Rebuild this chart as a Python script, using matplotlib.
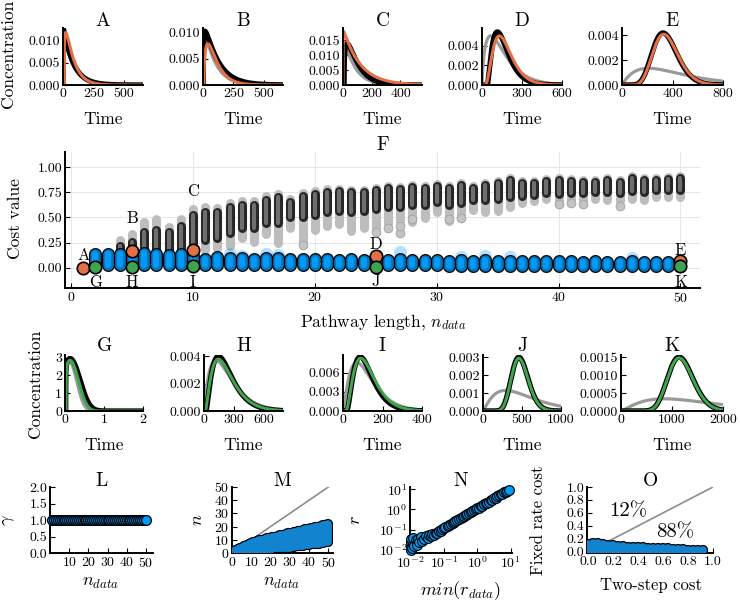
"""
Pathway length figure: concentration profiles (A-E, G-K), cost per
pathway length (F) and fitted parameters against the data (L-O).
"""

import numpy as np
import matplotlib
matplotlib.use("Agg")
import matplotlib.pyplot as plt

W, H = 740, 603
BLUE = "#009AFA"
DARK_BLUE = "#0b74b8"
ORANGE = "#E36F47"
GREEN = "#3EA44E"
GRAY = "#9a9a9a"

# --- top row (A-E): data (black), fixed rate (gray), two-step (orange)
# curve parameters: (height, start, width to peak, shape, power)
top_names = ["A", "B", "C", "D", "E"]
top_tmax = [660, 660, 550, 600, 800]
top_xticks = [[0, 250, 500], [0, 250, 500], [0, 200, 400], [0, 300, 600], [0, 400, 800]]
top_ymax = [0.0127, 0.0108, 0.0190, 0.0058, 0.0046]
top_yticks = [["0.000", "0.005", "0.010"], ["0.000", "0.005", "0.010"],
              ["0.000", "0.005", "0.010", "0.015"], ["0.000", "0.002", "0.004"],
              ["0.000", "0.002", "0.004"]]
top_data = [(0.0125, 0, 2, 0.025, 1), (0.0102, 3, 12, 0.12, 1), (0.0138, 8, 20, 0.3, 1),
            (0.0054, 40, 75, 1.5, 1), (0.0042, 0, 325, 11, 1)]
top_gray = [(0.0118, 0, 2, 0.0235, 1), (0.0094, 2, 10, 0.12, 1), (0.0125, 3, 10, 0.15, 1),
            (0.0050, 0, 65, 0.7, 1), (0.00135, 0, 210, 1.0, 1)]
top_fit = [(0.0117, 10, 12, 0.2, 1), (0.0078, 8, 32, 0.5, 1), (0.0180, 0, 2, 0.0174, 1),
           (0.0050, 25, 105, 2.2, 1), (0.0041, 0, 330, 11, 1)]

# --- middle row (G-K): data (black), fixed rate (gray), gamma fit (green)
mid_names = ["G", "H", "I", "J", "K"]
mid_tmax = [2, 800, 400, 1000, 2000]
mid_xticks = [[0, 1, 2], [0, 300, 600], [0, 200, 400], [0, 500, 1000], [0, 1000, 2000]]
mid_ymax = [3.15, 0.0041, 0.0088, 0.00313, 0.00156]
mid_yticks = [["0", "1", "2", "3"], ["0.000", "0.002", "0.004"],
              ["0.000", "0.003", "0.006"], ["0.000", "0.001", "0.002", "0.003"],
              ["0.0000", "0.0005", "0.0010", "0.0015"]]
mid_data = [(2.95, 0.02, 0.11, 0.09, 2.4), (0.0040, 20, 127, 1.45, 1),
            (0.0085, 18, 69, 1.9, 1), (0.0030, 0, 460, 18, 1), (0.0015, 0, 1140, 21, 1)]
mid_gray = [(2.75, 0.0, 0.12, 0.2, 2.4), (0.0037, 0, 120, 1.0, 1),
            (0.0076, 0, 70, 1.3, 1), (0.00115, 0, 290, 1.2, 1), (0.00034, 0, 850, 1.3, 1)]
mid_fit = [(2.85, 0.03, 0.10, 0.1, 2.4), (0.0038, 15, 130, 1.4, 1),
           (0.0083, 15, 75, 1.9, 1), (0.00295, 0, 460, 18, 1), (0.00148, 0, 1140, 21, 1)]

# --- panel F: spread of cost values per pathway length
n_gray = list(range(4, 51))
gray_hi = [0.28, 0.34, 0.46, 0.48, 0.41, 0.48, 0.58, 0.60, 0.59, 0.64, 0.66, 0.66,
           0.71, 0.73, 0.68, 0.74, 0.76, 0.78, 0.78, 0.77, 0.77, 0.79, 0.81, 0.80,
           0.82, 0.81, 0.83, 0.81, 0.84, 0.81, 0.84, 0.86, 0.89, 0.86, 0.86, 0.88,
           0.89, 0.88, 0.87, 0.87, 0.89, 0.87, 0.91, 0.89, 0.89, 0.90, 0.91]
gray_lo = [0.12, 0.14, 0.14, 0.14, 0.14, 0.15, 0.18, 0.18, 0.20, 0.22, 0.30, 0.26,
           0.34, 0.25, 0.40, 0.26, 0.38, 0.42, 0.44, 0.37, 0.40, 0.40, 0.44, 0.47,
           0.46, 0.49, 0.55, 0.47, 0.49, 0.57, 0.55, 0.56, 0.60, 0.64, 0.66, 0.68,
           0.63, 0.66, 0.66, 0.68, 0.67, 0.66, 0.68, 0.67, 0.70, 0.70, 0.70]
core_hi = [0.22, 0.26, 0.36, 0.38, 0.36, 0.42, 0.52, 0.55, 0.55, 0.60, 0.62, 0.62,
           0.67, 0.70, 0.65, 0.71, 0.73, 0.75, 0.76, 0.75, 0.75, 0.77, 0.79, 0.78,
           0.80, 0.79, 0.81, 0.79, 0.82, 0.79, 0.82, 0.84, 0.87, 0.84, 0.84, 0.86,
           0.87, 0.86, 0.85, 0.85, 0.87, 0.85, 0.89, 0.87, 0.87, 0.88, 0.89]
core_lo = [0.15, 0.16, 0.18, 0.18, 0.18, 0.20, 0.25, 0.28, 0.30, 0.35, 0.40, 0.40,
           0.45, 0.45, 0.50, 0.50, 0.52, 0.55, 0.56, 0.55, 0.56, 0.58, 0.60, 0.60,
           0.62, 0.62, 0.65, 0.62, 0.64, 0.67, 0.67, 0.68, 0.70, 0.71, 0.72, 0.74,
           0.73, 0.74, 0.74, 0.75, 0.75, 0.74, 0.76, 0.75, 0.77, 0.77, 0.77]
gray_out_n = [19, 25, 26, 27, 27, 28, 31, 32, 40, 41, 42, 45]
gray_out_c = [0.23, 0.36, 0.40, 0.35, 0.42, 0.48, 0.48, 0.49, 0.63, 0.64, 0.63, 0.61]

n_blue = list(range(2, 51))
blue_hi = [0.14, 0.14, 0.14, 0.13, 0.15, 0.14, 0.13, 0.14, 0.12, 0.09, 0.11, 0.10,
           0.10, 0.09, 0.10, 0.10, 0.09, 0.09, 0.09, 0.09, 0.08, 0.09, 0.08, 0.08,
           0.08, 0.09, 0.08, 0.08, 0.08, 0.07, 0.08, 0.07, 0.08, 0.07, 0.07, 0.07,
           0.07, 0.07, 0.07, 0.07, 0.06, 0.07, 0.06, 0.06, 0.07, 0.06, 0.06, 0.06, 0.06]
blue_lo = [0.03] * 9 + [0.025] * 20 + [0.02] * 20
blue_out_n = [13, 14, 16, 17, 25, 27, 32, 34, 36, 46]
blue_out_c = [0.14, 0.12, 0.14, 0.13, 0.12, 0.16, 0.11, 0.12, 0.11, 0.10]

orange_names = ["A", "B", "C", "D", "E"]
orange_n = [1, 5, 10, 25, 50]
orange_cost = [0.0, 0.17, 0.18, 0.12, 0.07]
orange_label_y = [0.12, 0.495, 0.76, 0.23, 0.175]
green_names = ["G", "H", "I", "J", "K"]
green_n = [2, 5, 10, 25, 50]
green_cost = [0.01, 0.01, 0.02, 0.01, 0.02]
green_label_y = [-0.14, -0.14, -0.14, -0.13, -0.14]

# --- bottom row (L-O)
gamma_ndata = list(range(1, 51))
gamma_vals = [1.0] * 50

m_ndata = list(range(1, 51))
m_hi = [1.5, 2, 3, 3.5, 4, 5, 5.5, 6, 7, 7.5, 8, 8.5, 9, 9.5, 10, 10, 10.5, 11, 11,
        11.5, 12, 12, 12.5, 13, 13.5, 14, 14, 14.5, 15, 15.5, 15.5, 16, 16, 16.5, 17,
        17, 17.5, 18, 18, 18.5, 19, 19, 19.5, 20, 20, 20.5, 21, 21, 21.5, 22]
m_lo = [0.5, 0.8, 1, 1, 1, 1, 1, 1, 1, 1, 1.5, 1.5, 2, 2, 2, 2.5, 2.5, 3, 3, 3, 3,
        3.5, 3.5, 3.5, 3.5, 4, 4, 4, 4, 4, 4.5, 4.5, 5, 5, 5, 5.5, 5.5, 6, 6, 6, 6.5,
        6.5, 7, 7, 7, 7.5, 7.5, 8, 8, 8]

r_min = [0.010, 0.010, 0.010, 0.010, 0.011, 0.012, 0.012, 0.013, 0.014, 0.015,
         0.016, 0.017, 0.018, 0.020, 0.022, 0.025, 0.028, 0.032, 0.036, 0.040,
         0.045, 0.050, 0.056, 0.063, 0.071, 0.080, 0.090, 0.10, 0.11, 0.13, 0.14,
         0.16, 0.18, 0.20, 0.22, 0.25, 0.28, 0.32, 0.36, 0.40, 0.45, 0.50, 0.56,
         0.63, 0.71, 0.80, 0.90, 1.0, 1.1, 1.3, 1.4, 1.6, 1.8, 2.0, 2.2, 2.5, 2.8,
         3.2, 3.6, 4.0, 4.5, 5.0, 5.6, 6.3, 7.1, 8.0, 9.0]
r_fit = [0.010, 0.016, 0.025, 0.035, 0.013, 0.020, 0.040, 0.015, 0.030, 0.022,
         0.018, 0.035, 0.025, 0.045, 0.028, 0.035, 0.050, 0.040, 0.055, 0.048,
         0.060, 0.058, 0.070, 0.072, 0.085, 0.090, 0.11, 0.12, 0.13, 0.16, 0.17,
         0.19, 0.22, 0.23, 0.27, 0.29, 0.33, 0.37, 0.42, 0.46, 0.52, 0.57, 0.64,
         0.72, 0.80, 0.90, 1.0, 1.15, 1.25, 1.45, 1.55, 1.8, 2.0, 2.2, 2.45, 2.8,
         3.1, 3.5, 3.9, 4.4, 4.9, 5.5, 6.1, 6.9, 7.7, 8.6, 9.6]

two_step = [0.00, 0.04, 0.08, 0.12, 0.16, 0.20, 0.24, 0.28, 0.32, 0.36, 0.40, 0.44,
            0.48, 0.52, 0.56, 0.60, 0.64, 0.68, 0.72, 0.76, 0.80, 0.84, 0.88, 0.92]
fixed_hi = [0.12, 0.13, 0.13, 0.12, 0.11, 0.10, 0.09, 0.09, 0.08, 0.08, 0.07, 0.07,
            0.06, 0.06, 0.05, 0.05, 0.05, 0.04, 0.04, 0.04, 0.03, 0.03, 0.03, 0.025]
fixed_lo = [0.01, 0.0, 0.0, 0.01, 0.01, 0.01, 0.01, 0.01, 0.01, 0.01, 0.01, 0.01,
            0.005, 0.005, 0.005, 0.005, 0.005, 0.005, 0.0, 0.0, 0.0, 0.0, 0.0, 0.005]
share_text = ["12%", "88%"]

# axes boxes in pixels: (left, top, right, bottom)
TOP_BOXES = [(63, 28, 143, 85), (203, 28, 283, 85), (343, 28, 422, 85),
             (482, 28, 562, 85), (622, 28, 723, 85)]
MID_BOXES = [(65, 355, 143, 411), (204, 355, 283, 411), (343, 355, 422, 411),
             (483, 355, 561, 411), (621, 355, 723, 411)]
F_BOX = (65, 152, 700, 288)
L_BOX, M_BOX, N_BOX, O_BOX = ((50, 487, 153, 553), (232, 487, 333, 553),
                              (410, 487, 512, 553), (587, 487, 713, 553))


def pulse(t, height, start, width, shape, power):
    u = np.clip((t - start) / width, 0, None)
    return height * u ** shape * np.exp(shape / power * (1 - u ** power))


def px_axes(fig, box):
    left, top, right, bottom = box
    return fig.add_axes([left / W, 1 - bottom / H, (right - left) / W, (bottom - top) / H])


def label(fig, x, y, text, size, rotation=0):
    fig.text(x / W, 1 - y / H, text, fontsize=size, ha="center", va="center",
             rotation=rotation)


def style(ax):
    for side in ("top", "right"):
        ax.spines[side].set_visible(False)
    for side in ("left", "bottom"):
        ax.spines[side].set_linewidth(1.4)
    ax.tick_params(direction="in", length=3.5, width=0.8, labelsize=10, pad=2)


def columns(ax, x, lo, hi, lw, color, z, alpha=1.0):
    ax.vlines(x, lo, hi, lw=lw, colors=color, capstyle="round", zorder=z, alpha=alpha)


def draw_profiles(fig, boxes, names, tmax, xticks, ymax, yticks, data, gray, fit,
                  fit_color, title_y, xlabel_y):
    for i, box in enumerate(boxes):
        ax = px_axes(fig, box)
        t = np.linspace(0, tmax[i], 800)
        ax.plot(t, pulse(t, *gray[i]), color=GRAY, lw=2.3)
        ax.plot(t, pulse(t, *data[i]), color="black", lw=3.8)
        ax.plot(t, pulse(t, *fit[i]), color=fit_color, lw=2.2)
        ax.set_xlim(0, tmax[i])
        ax.set_ylim(0, ymax[i])
        ax.set_xticks(xticks[i])
        ax.set_xticklabels([str(v) for v in xticks[i]])
        ax.set_yticks([float(s) for s in yticks[i]])
        ax.set_yticklabels(yticks[i])
        style(ax)
        cx = (box[0] + box[2]) / 2
        label(fig, cx, title_y, names[i], 14)
        label(fig, cx, xlabel_y, "Time", 12.5)


def draw_cost(fig):
    ax = px_axes(fig, F_BOX)
    ax.grid(color="#e6e6e6", lw=0.7)
    ax.set_axisbelow(True)
    columns(ax, n_gray, gray_lo, gray_hi, 6.5, "#bdbdbd", 2)
    columns(ax, n_gray, core_lo, core_hi, 6.5, "#262626", 2.1)
    columns(ax, n_gray, core_lo, core_hi, 3.0, "#6e6e6e", 2.2)
    ax.scatter(gray_out_n, gray_out_c, s=40, color="#c4c4c4", edgecolors="#a0a0a0",
               lw=0.6, zorder=2)
    ax.scatter(blue_out_n, blue_out_c, s=90, color=BLUE, alpha=0.3, lw=0, zorder=2.5)
    columns(ax, n_blue, blue_lo, blue_hi, 9.4, "black", 3)
    columns(ax, n_blue, blue_lo, blue_hi, 7.6, DARK_BLUE, 3.1)
    columns(ax, n_blue, blue_lo, blue_hi, 4.5, BLUE, 3.2)
    ax.scatter(orange_n, orange_cost, s=80, color=ORANGE, edgecolors="black",
               lw=1.2, zorder=5)
    ax.scatter(green_n, green_cost, s=80, color=GREEN, edgecolors="black",
               lw=1.2, zorder=5)
    for name, x, y in zip(orange_names, orange_n, orange_label_y):
        ax.text(x, y, name, fontsize=12, ha="center", va="center", zorder=6)
    for name, x, y in zip(green_names, green_n, green_label_y):
        ax.text(x, y, name, fontsize=12, ha="center", va="center", zorder=6)
    ax.set_xlim(-0.5, 51.6)
    ax.set_ylim(-0.2, 1.15)
    ax.set_xticks([0, 10, 20, 30, 40, 50])
    ax.set_yticks([0, 0.25, 0.5, 0.75, 1.0])
    ax.set_yticklabels(["0.00", "0.25", "0.50", "0.75", "1.00"])
    style(ax)
    label(fig, 383, 145, "F", 14)
    label(fig, 383, 322, r"Pathway length, $n_{data}$", 12.5)
    label(fig, 15, 219, "Cost value", 12.5, rotation=90)


def draw_params(fig):
    ax = px_axes(fig, L_BOX)
    ax.scatter(gamma_ndata, gamma_vals, s=50, color=BLUE, edgecolors="black", lw=0.9,
               zorder=3, clip_on=False)
    ax.set_xlim(-0.1, 53.8)
    ax.set_ylim(0, 2)
    ax.set_xticks([10, 20, 30, 40, 50])
    ax.set_yticks([0, 0.5, 1.0, 1.5, 2.0])
    ax.set_yticklabels(["0.0", "0.5", "1.0", "1.5", "2.0"])
    style(ax)

    ax = px_axes(fig, M_BOX)
    ax.plot([0, 50], [0, 50], color="#8c8c8c", lw=1.2)
    columns(ax, m_ndata, m_lo, m_hi, 7.4, "black", 3)
    columns(ax, m_ndata, m_lo, m_hi, 5.6, "#1283cf", 3.1)
    ax.set_xlim(0, 52.4)
    ax.set_ylim(0, 50)
    ax.set_xticks([0, 10, 20, 30, 40, 50])
    ax.set_yticks([0, 10, 20, 30, 40, 50])
    style(ax)

    ax = px_axes(fig, N_BOX)
    ax.scatter(r_min, r_fit, s=50, color=BLUE, edgecolors="black", lw=0.8, zorder=3,
               clip_on=False)
    ax.set_xscale("log")
    ax.set_yscale("log")
    ax.set_xlim(10 ** -2.02, 10 ** 1.04)
    ax.set_ylim(10 ** -2.15, 10 ** 1.11)
    ax.set_xticks([0.01, 0.1, 1, 10])
    ax.set_xticklabels([r"$10^{-2}$", r"$10^{-1}$", r"$10^{0}$", r"$10^{1}$"])
    ax.set_yticks([0.01, 0.1, 1, 10])
    ax.set_yticklabels([r"$10^{-2}$", r"$10^{-1}$", r"$10^{0}$", r"$10^{1}$"])
    ax.minorticks_off()
    style(ax)

    ax = px_axes(fig, O_BOX)
    ax.plot([0, 1], [0, 1], color="#8c8c8c", lw=1.2)
    columns(ax, two_step, fixed_lo, fixed_hi, 7.4, "black", 3)
    columns(ax, two_step, fixed_lo, fixed_hi, 5.6, "#1283cf", 3.1)
    ax.text(0.32, 0.62, share_text[0], fontsize=15, ha="center", va="center")
    ax.text(0.70, 0.30, share_text[1], fontsize=15, ha="center", va="center")
    ax.set_xlim(-0.01, 1.0)
    ax.set_ylim(-0.02, 1.0)
    ticks = [0, 0.2, 0.4, 0.6, 0.8, 1.0]
    ax.set_xticks(ticks)
    ax.set_xticklabels([f"{v:.1f}" for v in ticks])
    ax.set_yticks(ticks)
    ax.set_yticklabels([f"{v:.1f}" for v in ticks])
    style(ax)

    for x, name in zip([101, 282, 461, 650], ["L", "M", "N", "O"]):
        label(fig, x, 481, name, 14)
    label(fig, 100, 583, r"$n_{data}$", 13)
    label(fig, 281, 583, r"$n_{data}$", 13)
    label(fig, 460, 591, r"$min(r_{data})$", 13)
    label(fig, 651, 585, "Two-step cost", 12)
    label(fig, 9, 520, r"$\gamma$", 13, rotation=90)
    label(fig, 197, 520, r"$n$", 13, rotation=90)
    label(fig, 355, 520, r"$r$", 13, rotation=90)
    label(fig, 538, 520, "Fixed rate cost", 12, rotation=90)


def main():
    plt.rcParams["font.family"] = ["cmr10", "DejaVu Serif"]
    plt.rcParams["mathtext.fontset"] = "cm"
    plt.rcParams["axes.unicode_minus"] = False
    plt.rcParams["axes.formatter.use_mathtext"] = True

    fig = plt.figure(figsize=(W / 100, H / 100), dpi=100)
    draw_profiles(fig, TOP_BOXES, top_names, top_tmax, top_xticks, top_ymax,
                  top_yticks, top_data, top_gray, top_fit, ORANGE, 21, 119)
    draw_profiles(fig, MID_BOXES, mid_names, mid_tmax, mid_xticks, mid_ymax,
                  mid_yticks, mid_data, mid_gray, mid_fit, GREEN, 346, 445)
    label(fig, 8, 54, "Concentration", 12.5, rotation=90)
    label(fig, 35, 384, "Concentration", 12.5, rotation=90)
    draw_cost(fig)
    draw_params(fig)
    fig.savefig("out.png", dpi=100)


if __name__ == "__main__":
    main()
